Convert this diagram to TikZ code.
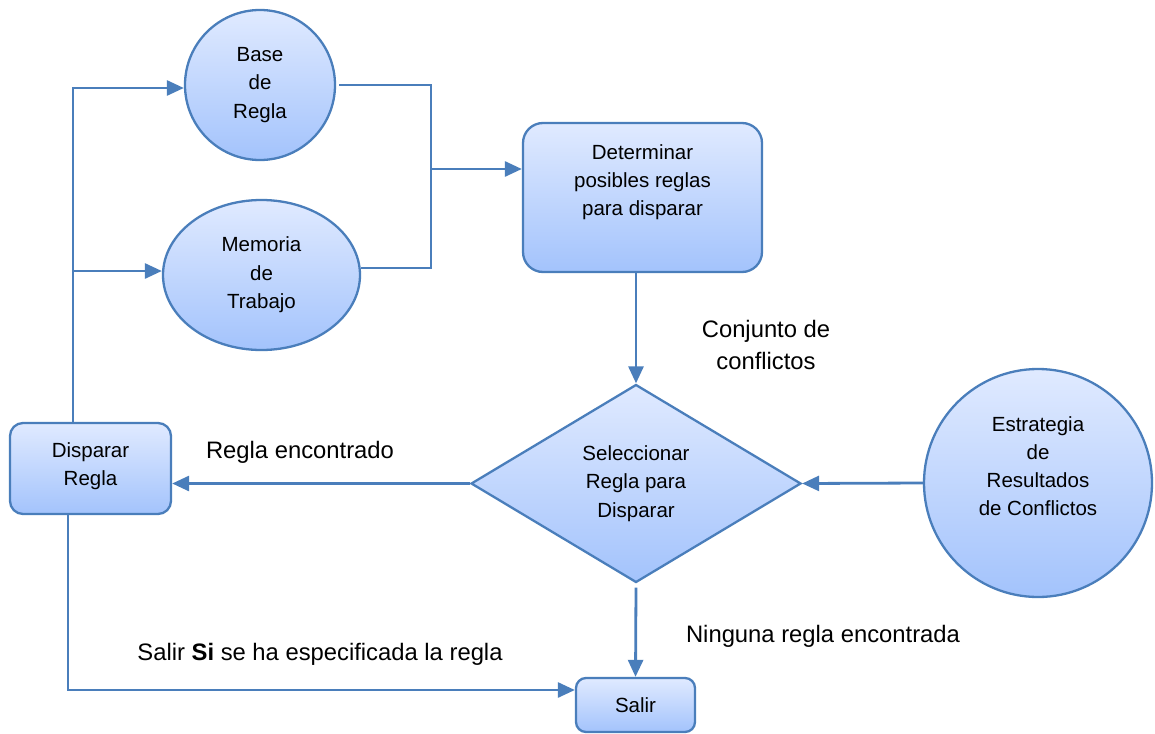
\documentclass[tikz,border=0pt]{standalone}
\usepackage{fontspec}
\setmainfont{Liberation Sans}
\usetikzlibrary{shapes.geometric,arrows.meta}

\definecolor{edgeblue}{RGB}{74,126,187}
\definecolor{filltop}{RGB}{224,234,255}
\definecolor{fillbot}{RGB}{163,195,252}

\tikzset{
  shapebase/.style={draw=edgeblue, line width=2.3pt, top color=filltop,
    bottom color=fillbot, inner sep=0pt, align=center,
    font=\fontsize{20.5}{28.5}\selectfont},
  circnode/.style={shapebase, circle},
  ellnode/.style={shapebase, ellipse},
  boxnode/.style={shapebase, rectangle},
  dianode/.style={shapebase, diamond},
  nodetext/.style={align=center, inner sep=0pt,
    font=\fontsize{20.5}{28}\selectfont},
  lbl/.style={align=center, inner sep=0pt,
    font=\fontsize{23.8}{32}\selectfont},
  conn/.style={draw=edgeblue, line width=2.8pt},
  arr/.style={conn, -{Triangle[length=17pt,width=15pt]}},
}

\begin{document}
\begin{tikzpicture}[x=1pt,y=-1pt]
\useasboundingbox (0,0) rectangle (1155,733);

% shapes
\node[circnode, minimum size=150pt] (base) at (260,85) {Base\\de\\Regla};
\node[ellnode, minimum width=197pt, minimum height=150pt] (mem) at (261.5,275) {Memoria\\de\\Trabajo};
\node[boxnode, rounded corners=20pt, minimum width=239pt, minimum height=149pt] (det) at (642.5,197.5) {};
\node[nodetext] (detT) at (642.5,182) {Determinar\\posibles reglas\\para disparar};
\node[dianode, minimum width=330pt, minimum height=198pt] (sel) at (636,483.5) {Seleccionar\\Regla para\\Disparar};
\node[circnode, minimum size=228pt] (est) at (1038,483) {};
\node[nodetext] (estT) at (1038,466) {Estrategia\\de\\Resultados\\de Conflictos};
\node[boxnode, rounded corners=13pt, minimum width=161pt, minimum height=91pt] (disp) at (90.5,468.5) {};
\node[nodetext] (dispT) at (90.5,466) {Disparar\\Regla};
\node[boxnode, rounded corners=10pt, minimum width=119pt, minimum height=54pt] (sal) at (635.5,705) {Salir};

% junction points
\coordinate (lx) at (73,0);
\coordinate (rx) at (431,0);
\coordinate (bx) at (68,0);
\coordinate (basein) at ([yshift=-3pt]base.west);
\coordinate (memin) at ([yshift=4pt]mem.west);
\coordinate (memout) at ([yshift=7pt]mem.east);
\coordinate (baseout) at ([xshift=3pt]base.east);
\coordinate (detin) at ([yshift=28.5pt]det.west);
\coordinate (salin) at ([yshift=15pt]sal.west);
\coordinate (selout) at ([yshift=-4pt]sel.south);

% connectors
\draw[arr] (disp.north -| lx) |- (basein);
\draw[arr] (lx |- memin) -- (memin);
\draw[conn] (baseout) -| (rx |- memout) -- (memout);
\draw[arr] (rx |- detin) -- (detin);
\draw[arr] (det.south -| sel.north) -- (sel.north);
\draw[arr] (sel.west) -- (sel.west -| disp.east);
\draw[arr] (est.west) -- (sel.east);
\draw[arr] (selout) -- (sal.north);
\draw[arr] (disp.south -| bx) |- (salin);

% labels
\node[lbl] (conj) at (766,345) {Conjunto de\\conflictos};
\node[lbl] (rege) at (300,452) {Regla encontrado};
\node[lbl] (ning) at (823,636) {Ninguna regla encontrada};
\node[lbl] (salsi) at (320,654) {Salir \textbf{Si} se ha especificada la regla};
\end{tikzpicture}
\end{document}
